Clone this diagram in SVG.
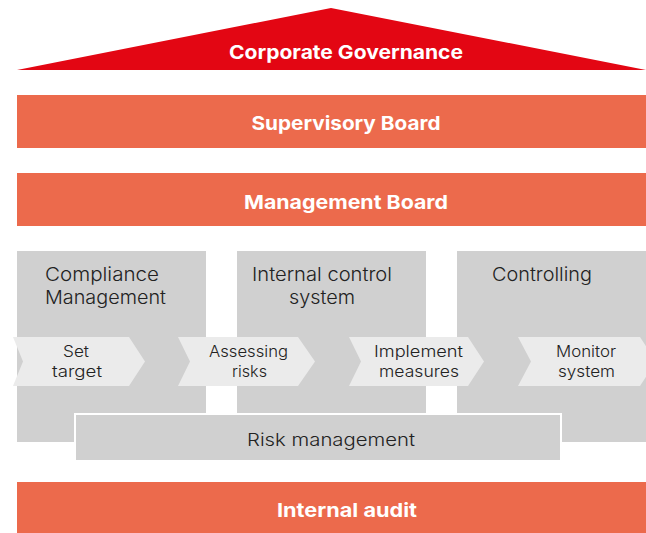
<svg xmlns="http://www.w3.org/2000/svg" width="646" height="533" viewBox="0 0 646 533">
<style>
.band{fill:#EC6A4C}
.hd{font-family:Inter,"Noto Sans",sans-serif;font-weight:700;fill:#fff;font-size:19px;text-anchor:middle}
.col{fill:#D0D0D0}
.chev{fill:#EBEBEB}
.t{font-family:Inter,"Noto Sans",sans-serif;font-weight:300;fill:#222;text-anchor:middle}
.ct{font-size:18.5px}
.st{font-size:15.5px}
</style>
<rect width="646" height="533" fill="#fff"/>
<g id="corporate-governance">
<polygon points="17,70 331,8 646,70" fill="#E30613"/>
<text class="hd" x="346" y="59" textLength="234" lengthAdjust="spacingAndGlyphs">Corporate Governance</text>
</g>
<g id="supervisory-board">
<rect class="band" x="17" y="95" width="629" height="53"/>
<text class="hd" x="346" y="130" textLength="189" lengthAdjust="spacingAndGlyphs">Supervisory Board</text>
</g>
<g id="management-board">
<rect class="band" x="17" y="173" width="629" height="53"/>
<text class="hd" x="346" y="209" textLength="204" lengthAdjust="spacingAndGlyphs">Management Board</text>
</g>
<g id="compliance-management">
<rect class="col" x="17" y="251" width="189" height="191"/>
<text class="t ct" x="102" y="281" textLength="114" lengthAdjust="spacingAndGlyphs">Compliance</text>
<text class="t ct" x="105.5" y="304" textLength="121" lengthAdjust="spacingAndGlyphs">Management</text>
</g>
<g id="internal-control-system">
<rect class="col" x="237" y="251" width="189" height="191"/>
<text class="t ct" x="322" y="281" textLength="140" lengthAdjust="spacingAndGlyphs">Internal control</text>
<text class="t ct" x="322" y="304" textLength="66" lengthAdjust="spacingAndGlyphs">system</text>
</g>
<g id="controlling">
<rect class="col" x="457" y="251" width="189" height="191"/>
<text class="t ct" x="542" y="281" textLength="100" lengthAdjust="spacingAndGlyphs">Controlling</text>
</g>
<g id="risk-management">
<rect x="75" y="414" width="486" height="47" fill="#D0D0D0" stroke="#fff" stroke-width="2"/>
<text class="t" font-size="17.5" x="331" y="446" textLength="168" lengthAdjust="spacingAndGlyphs">Risk management</text>
</g>
<g id="set-target">
<polygon class="chev" points="13,337 129,337 145,361.5 129,386 13,386 23,361.5"/>
<text class="t st" x="76" y="357" textLength="26" lengthAdjust="spacingAndGlyphs">Set</text>
<text class="t st" x="77" y="377" textLength="50" lengthAdjust="spacingAndGlyphs">target</text>
</g>
<g id="assessing-risks">
<polygon class="chev" points="178,337 298,337 315,361.5 298,386 178,386 190,361.5"/>
<text class="t st" x="248.5" y="357" textLength="79" lengthAdjust="spacingAndGlyphs">Assessing</text>
<text class="t st" x="249.5" y="377" textLength="35" lengthAdjust="spacingAndGlyphs">risks</text>
</g>
<g id="implement-measures">
<polygon class="chev" points="349,337 468,337 484,361.5 468,386 349,386 361,361.5"/>
<text class="t st" x="418.5" y="357" textLength="89" lengthAdjust="spacingAndGlyphs">Implement</text>
<text class="t st" x="419" y="377" textLength="80" lengthAdjust="spacingAndGlyphs">measures</text>
</g>
<g id="monitor-system">
<polygon class="chev" points="518,337 640,337 656,361.5 640,386 518,386 531,361.5"/>
<text class="t st" x="586" y="357" textLength="60" lengthAdjust="spacingAndGlyphs">Monitor</text>
<text class="t st" x="586.5" y="377" textLength="57" lengthAdjust="spacingAndGlyphs">system</text>
</g>
<g id="internal-audit">
<rect class="band" x="17" y="482" width="629" height="51"/>
<text class="hd" x="347" y="517" textLength="140" lengthAdjust="spacingAndGlyphs">Internal audit</text>
</g>
<g id="connectors"></g>
</svg>
